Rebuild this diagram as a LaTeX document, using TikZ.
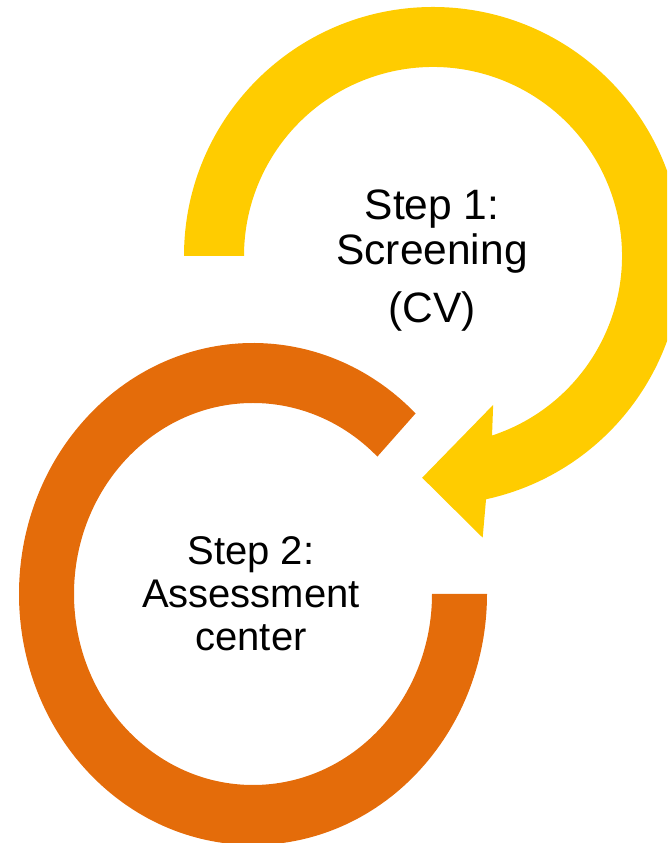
\documentclass[tikz,border=0pt]{standalone}
\usepackage{fontspec}
\setmainfont{Liberation Sans}
\usepackage{tikz}
\definecolor{Gold}{HTML}{FFCC00}
\definecolor{Rust}{HTML}{E46C0A}

\begin{document}
\begin{tikzpicture}[x=1pt,y=1pt,
  steptext/.style={align=center,inner sep=0pt,font=\fontsize{40}{43}\selectfont}]
% Frame
\useasboundingbox (0,0) rectangle (667,843);
\clip (0,0) rectangle (667,843);
% Step 1 arrow
\fill [Gold,shift={(433,587)}] (180:249) arc (180:-77.7:249) -- (-80:286)
  -- (-92.8:222) -- (-68:160.6) -- (-71.8:189) arc (-71.8:180:189) -- cycle;
% Step 2 ring
\fill [Rust,shift={(253,249)}] (46:234 and 251)
  arc [start angle=46,end angle=360,x radius=234,y radius=251]
  -- (0:179 and 191)
  arc [start angle=360,end angle=46,x radius=179,y radius=191] -- cycle;
% Labels
\node (step1) [steptext,font=\fontsize{42.5}{45}\selectfont] at (432,582)
  {Step 1:\\Screening\\[13pt](CV)};
\node (step2) [steptext] at (251,249) {Step 2:\\Assessment\\center};
\end{tikzpicture}
\end{document}
